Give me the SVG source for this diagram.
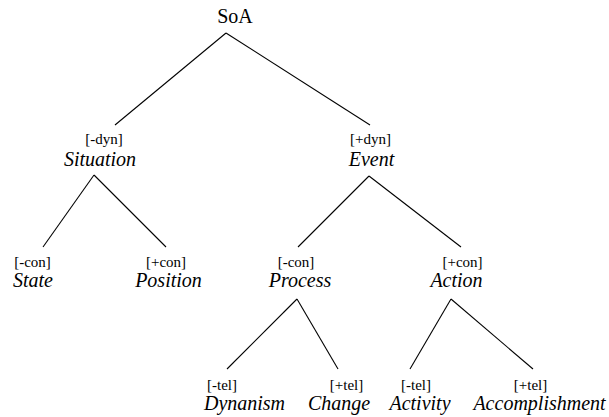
<svg xmlns="http://www.w3.org/2000/svg" width="609" height="417" viewBox="0 0 609 417">
  <style>
    .t { fill: #000; text-anchor: middle; }
    .root { font-size: 20px; }
    .feat { font-size: 15px; }
    .name { font-size: 20px; font-style: italic; }
    .edge { stroke: #000; stroke-width: 1.1; fill: none; }
  </style>
  <rect width="609" height="417" fill="#fff"/>

  <g id="connectors">
    <line class="edge" x1="226" y1="33" x2="115" y2="125"/>
    <line class="edge" x1="226" y1="33" x2="370" y2="125"/>
    <line class="edge" x1="94" y1="175" x2="43" y2="247"/>
    <line class="edge" x1="94" y1="175" x2="166" y2="247"/>
    <line class="edge" x1="369" y1="176" x2="298" y2="247"/>
    <line class="edge" x1="369" y1="176" x2="461" y2="247"/>
    <line class="edge" x1="297" y1="299" x2="227" y2="369"/>
    <line class="edge" x1="297" y1="299" x2="338" y2="369"/>
    <line class="edge" x1="451" y1="299" x2="410" y2="369"/>
    <line class="edge" x1="451" y1="299" x2="533" y2="369"/>
  </g>

  <g font-family="'Liberation Serif', 'DejaVu Serif', serif">
    <g id="soa">
      <text class="t root" x="235" y="23">SoA</text>
    </g>
    <g id="situation">
      <text class="t feat" x="104" y="144">[-dyn]</text>
      <text class="t name" x="100" y="166">Situation</text>
    </g>
    <g id="event">
      <text class="t feat" x="370.5" y="144">[+dyn]</text>
      <text class="t name" x="371.5" y="166">Event</text>
    </g>
    <g id="state">
      <text class="t feat" x="32.5" y="267">[-con]</text>
      <text class="t name" x="33" y="287">State</text>
    </g>
    <g id="position">
      <text class="t feat" x="166" y="267">[+con]</text>
      <text class="t name" x="168.5" y="287">Position</text>
    </g>
    <g id="process">
      <text class="t feat" x="296" y="267">[-con]</text>
      <text class="t name" x="300" y="287">Process</text>
    </g>
    <g id="action">
      <text class="t feat" x="462.5" y="267">[+con]</text>
      <text class="t name" x="456.5" y="287">Action</text>
    </g>
    <g id="dynanism">
      <text class="t feat" x="222" y="390">[-tel]</text>
      <text class="t name" x="244.5" y="410">Dynanism</text>
    </g>
    <g id="change">
      <text class="t feat" x="346.5" y="390">[+tel]</text>
      <text class="t name" x="339" y="410">Change</text>
    </g>
    <g id="activity">
      <text class="t feat" x="416" y="390">[-tel]</text>
      <text class="t name" x="420" y="410">Activity</text>
    </g>
    <g id="accomplishment">
      <text class="t feat" x="530.5" y="390">[+tel]</text>
      <text class="t name" x="539.5" y="410">Accomplishment</text>
    </g>
  </g>
</svg>
